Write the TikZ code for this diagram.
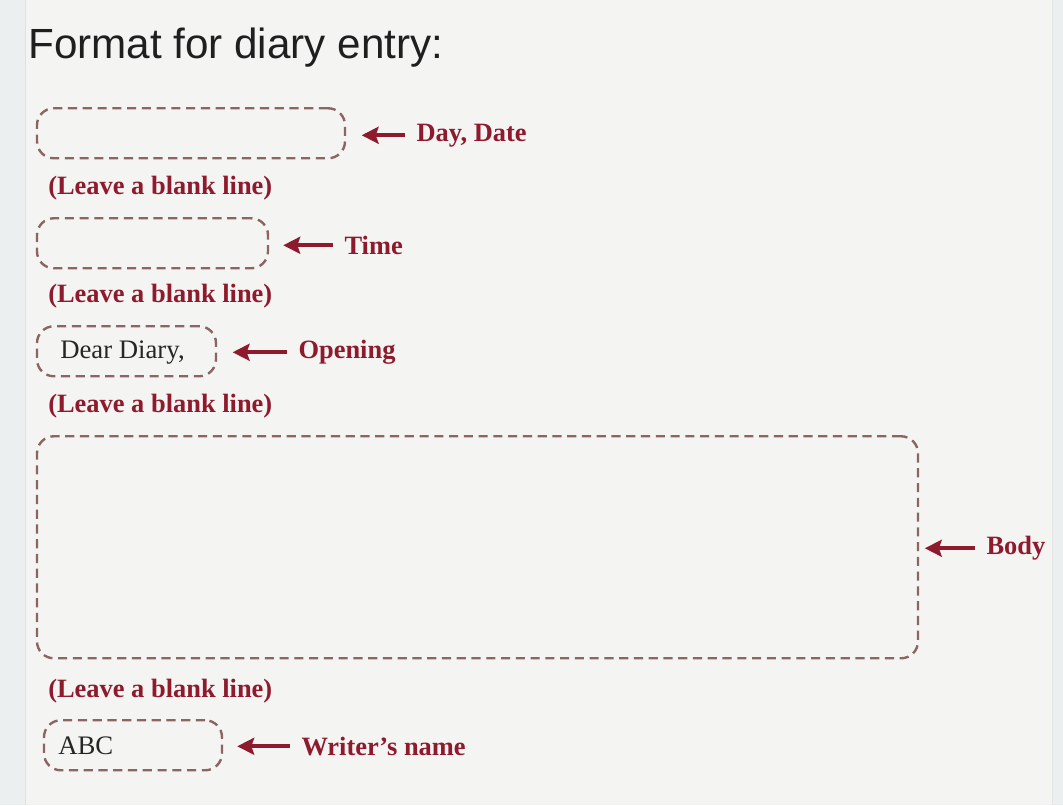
\documentclass[tikz,border=0pt]{standalone}
\usepackage{fontspec}
\setmainfont{Liberation Serif}
\newfontfamily\titlefont{Liberation Sans}
\usetikzlibrary{arrows.meta,positioning,fit}
\definecolor{inkred}{HTML}{8E1A2D}
\definecolor{dashbrown}{HTML}{8A6562}
\definecolor{paper}{HTML}{F4F4F3}
\definecolor{margin}{HTML}{ECEFEF}
\tikzset{
  entrybox/.style={draw=dashbrown, line width=1.7pt, dash pattern=on 6.5pt off 4pt,
    rounded corners=12pt, inner sep=0pt},
  hint/.style={text=inkred, font=\bfseries\fontsize{18.8}{20}\selectfont, inner sep=0pt, anchor=west},
  tag/.style={hint, inner xsep=8pt},
  sample/.style={font=\fontsize{19}{21}\selectfont, text=black!85, inner sep=0pt, anchor=west},
  pointer/.style={draw=inkred, line width=3pt, -{Stealth[length=12pt,width=12pt,inset=2pt]}, shorten >=#1},
  pointer/.default=11pt
}
\begin{document}
\begin{tikzpicture}[x=0.025cm,y=-0.025cm]
  % page
  \fill[paper] (0,0) rectangle (1063,805);
  \fill[margin] (0,0) rectangle (25,805);
  \draw[black!12] (25,0) -- (25,805);
  \fill[margin] (1052,0) rectangle (1063,805);
  \draw[black!10] (1052,0) -- (1052,805);
  \useasboundingbox (0,0) rectangle (1063,805);

  \node[anchor=base west, inner sep=0pt, text=black!88, font=\titlefont\fontsize{30}{34}\selectfont] (title) at (28,58) {Format for diary entry:};

  % day, date
  \node[entrybox, fit={(37,108) (345,158)}] (dayBox) {};
  \node[tag] (dayTag) at (405,135) {Day, Date};
  \draw[pointer] (dayTag.west) -- (dayTag.west -| dayBox.east);
  \node[hint] (gap1) at (48,188) {(Leave a blank line)};

  % time
  \node[entrybox, fit={(37,218) (268,268)}] (timeBox) {};
  \node[tag] (timeTag) at (333,245) {Time};
  \draw[pointer=10pt] (timeTag.west) -- (timeTag.west -| timeBox.east);
  \node[hint] (gap2) at (48,296) {(Leave a blank line)};

  % opening
  \node[entrybox, fit={(37,326) (216,376)}] (openBox) {};
  \node[sample] (openText) at (60,352) {Dear Diary,};
  \node[tag] (openTag) at (287,352) {Opening};
  \draw[pointer] (openTag.west) -- (openTag.west -| openBox.east);
  \node[hint] (gap3) at (48,406) {(Leave a blank line)};

  % body
  \node[entrybox, fit={(37,436) (918,658)}] (bodyBox) {};
  \node[tag] (bodyTag) at (975,548) {Body};
  \draw[pointer=4pt] (bodyTag.west) -- (bodyTag.west -| bodyBox.east);
  \node[hint] (gap4) at (48,691) {(Leave a blank line)};

  % writer
  \node[entrybox, fit={(44,720) (222,770)}] (nameBox) {};
  \node[sample] (nameText) at (58,745) {ABC};
  \node[tag] (nameTag) at (290,746) {Writer’s name};
  \draw[pointer=10pt] (nameTag.west) -- (nameTag.west -| nameBox.east);
\end{tikzpicture}
\end{document}
